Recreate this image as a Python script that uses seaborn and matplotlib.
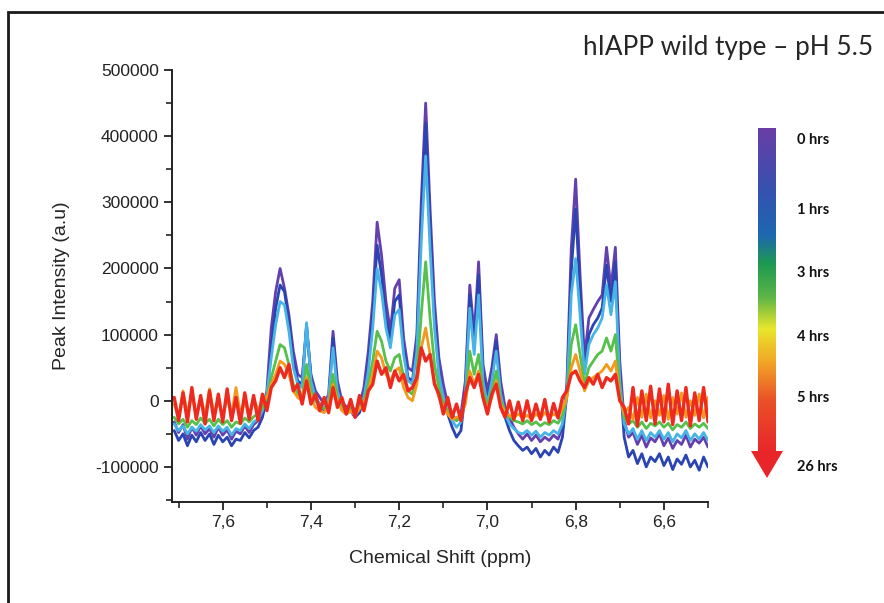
import matplotlib
matplotlib.use('Agg')
import matplotlib.pyplot as plt
import numpy as np
import pandas as pd
import seaborn as sns
from matplotlib import colors, patches
from matplotlib.ticker import MultipleLocator, FuncFormatter

# chemical shift grid, 7.71 -> 6.50 ppm in 0.01 steps
PPM = np.round(np.arange(771, 649, -1) / 100, 2)

# intensities, in thousands (a.u.)
purple_0h = [
    -32, -48, -36, -58, -40, -52, -38, -50, -42, -55,
    -40, -52, -44, -58, -46, -50, -38, -48, -36, -30,
    -15, 15, 110, 165, 200, 170, 130, 75, 40, 35,
    110, 40, 15, 5, -5, 10, 105, 30, 0, -10,
    -5, -15, -8, 20, 75, 150, 270, 220, 150, 105,
    170, 183, 95, 50, 45, 100, 300, 450, 290, 150,
    65, 25, -5, -20, -30, -20, 30, 175, 100, 210,
    55, 15, 50, 100, 30, -10, -25, -40, -50, -58,
    -50, -60, -52, -62, -55, -60, -52, -58, -40, 25,
    230, 335, 190, 65, 125, 138, 150, 160, 232, 170,
    232, 60, -30, -55, -48, -66, -52, -70, -56, -62,
    -50, -68, -56, -72, -60, -66, -52, -70, -58, -64,
    -55, -70]
blue_1h = [
    -45, -60, -50, -68, -52, -62, -48, -60, -50, -66,
    -52, -62, -55, -68, -58, -60, -48, -56, -45, -40,
    -25, 5, 80, 140, 175, 165, 120, 60, 30, 25,
    115, 35, 5, -5, -15, 0, 95, 20, -10, -20,
    -15, -25, -18, 5, 55, 130, 235, 190, 125, 90,
    150, 160, 80, 35, 30, 85, 270, 420, 260, 125,
    45, 5, -20, -40, -55, -45, 15, 160, 80, 190,
    40, 0, 35, 90, 15, -25, -45, -60, -68, -75,
    -70, -80, -72, -85, -75, -82, -70, -78, -55, 10,
    195, 290, 165, 45, 100, 115, 125, 140, 205, 150,
    210, 40, -55, -85, -75, -95, -80, -100, -85, -92,
    -80, -98, -85, -104, -88, -96, -82, -100, -90, -105,
    -85, -100]
sky_2h = [
    -35, -45, -38, -50, -40, -46, -36, -44, -38, -48,
    -38, -46, -40, -52, -42, -45, -35, -42, -32, -28,
    -15, 10, 65, 115, 150, 145, 105, 50, 25, 20,
    118, 30, 5, -5, -10, 5, 80, 15, -8, -15,
    -10, -18, -12, 5, 45, 110, 200, 165, 110, 80,
    130, 138, 70, 30, 25, 75, 240, 370, 230, 110,
    40, 5, -15, -30, -40, -32, 10, 140, 70, 160,
    30, -5, 30, 75, 10, -20, -35, -42, -48, -50,
    -45, -52, -46, -55, -48, -52, -45, -50, -35, 10,
    160, 215, 130, 40, 85, 100, 110, 125, 175, 130,
    180, 30, -35, -50, -42, -58, -45, -60, -48, -55,
    -45, -58, -48, -62, -50, -56, -45, -60, -50, -58,
    -48, -60]
green_3h = [
    -25, -35, -28, -40, -30, -36, -26, -34, -28, -38,
    -28, -36, -30, -40, -32, -35, -26, -32, -24, -20,
    -10, 5, 35, 60, 85, 80, 55, 25, 10, 5,
    55, 15, 0, -8, -12, -2, 40, 5, -10, -15,
    -10, -15, -10, 0, 25, 60, 105, 90, 60, 45,
    65, 70, 35, 15, 10, 40, 130, 210, 125, 55,
    20, -5, -15, -25, -30, -25, 0, 75, 40, 70,
    15, -8, 15, 45, 0, -15, -25, -30, -32, -35,
    -30, -36, -32, -38, -33, -36, -30, -34, -22, 5,
    85, 115, 70, 25, 50, 60, 70, 75, 95, 75,
    100, 15, -25, -35, -30, -40, -32, -42, -34, -38,
    -32, -40, -34, -44, -36, -40, -32, -42, -35, -40,
    -34, -42]
orange_4h = [
    -5, -25, 15, -20, 10, -25, 5, -22, 18, -20,
    0, -25, 5, -22, 20, -20, 0, -24, 5, -15,
    0, 5, 25, 40, 60, 55, 40, 15, 5, 0,
    35, 5, -10, -15, -18, -8, 25, 0, -15, -20,
    -15, -22, -12, -5, 15, 40, 75, 65, 40, 30,
    45, 50, 20, 5, 0, 25, 80, 110, 70, 30,
    5, -10, -20, -28, -25, -22, -5, 45, 25, 45,
    5, -12, 5, 30, -5, -18, -22, -25, -20, -26,
    -22, -28, -20, -26, -18, -25, -20, -24, -12, 5,
    50, 70, 45, 15, 30, 35, 40, 45, 55, 45,
    60, 5, -20, -10, -28, 5, -25, 10, -26, 0,
    -22, 8, -28, 5, -20, 12, -25, 0, -22, 10,
    -26, 5]
red_26h = [
    5, -30, 12, -32, 20, -28, 8, -35, 15, -30,
    10, -32, 18, -30, 5, -34, 12, -28, 8, -30,
    10, -15, 20, 30, 50, 35, 55, 15, 25, -5,
    30, -5, 10, -15, 5, -18, 20, -10, 5, -20,
    2, -25, 8, -15, 15, 25, 60, 40, 50, 20,
    45, 30, 40, 15, 20, 35, 80, 60, 70, 25,
    10, -20, 5, -25, -5, -30, 10, 35, 20, 40,
    5, -20, 10, 25, -10, -25, 0, -28, -2, -30,
    0, -30, -5, -28, 2, -32, -4, -26, 5, 15,
    40, 45, 30, 20, 35, 25, 40, 20, 35, 30,
    40, 0, -10, -35, 20, -38, 15, -30, 22, -35,
    18, -32, 25, -36, 15, -30, 20, -38, 12, -30,
    20, -32]

series = {
    '0 hrs': purple_0h,
    '1 hrs': blue_1h,
    '2 hrs': sky_2h,
    '3 hrs': green_3h,
    '4 hrs': orange_4h,
    '26 hrs': red_26h,
}
line_colors = ['#6440ae', '#2a44b2', '#48b4e6', '#55c04a', '#f39a1e', '#ee2a1e']

time_labels = ['0 hrs', '1 hrs', '3 hrs', '4 hrs', '5 hrs', '26 hrs']
label_y = [140, 210, 273, 337, 398, 467]

frames = []
for name, vals in series.items():
    frames.append(pd.DataFrame({'ppm': PPM, 'intensity': np.array(vals) * 1000, 'time': name}))
df = pd.concat(frames, ignore_index=True)

sns.set_style('ticks')
plt.rcParams['font.family'] = ['Liberation Sans', 'DejaVu Sans']

W, H = 884, 603
fig = plt.figure(figsize=(W / 100, H / 100), dpi=100)
ax = fig.add_axes([172 / W, 1 - 502 / H, (708 - 172) / W, (502 - 70) / H])

sns.lineplot(data=df, x='ppm', y='intensity', hue='time', hue_order=list(series.keys()),
             palette=line_colors, sort=False, estimator=None, legend=False,
             linewidth=2.0, ax=ax)
ax.lines[-1].set_linewidth(2.4)

ax.set_xlim(7.715, 6.5)
ax.set_ylim(-153000, 500000)
ax.xaxis.set_major_locator(MultipleLocator(0.2))
ax.xaxis.set_minor_locator(MultipleLocator(0.1))
ax.yaxis.set_major_locator(MultipleLocator(100000))
ax.yaxis.set_minor_locator(MultipleLocator(50000))
ax.xaxis.set_major_formatter(FuncFormatter(lambda v, p: f'{v:.1f}'.replace('.', ',')))
ax.yaxis.set_major_formatter(FuncFormatter(lambda v, p: f'{v:.0f}'))
ax.tick_params(axis='both', which='major', length=6, width=1.3, labelsize=12.5, colors='#222222')
ax.tick_params(axis='both', which='minor', length=4, width=1.2)
sns.despine(ax=ax)
for s in ['left', 'bottom']:
    ax.spines[s].set_linewidth(1.4)
    ax.spines[s].set_color('#222222')
ax.set_xlabel('Chemical Shift (ppm)', fontsize=14, labelpad=14)
ax.set_ylabel('Peak Intensity (a.u)', fontsize=14, labelpad=18)
ax.set_facecolor('none')

# title
fig.text(583 / W, 1 - 47 / H, 'hIAPP wild type \u2013 pH 5.5', fontsize=18.8,
         family=['Lato', 'DejaVu Sans'], va='center', ha='left')

# outer frame
fig.patches.append(patches.Rectangle((8 / W, -0.05), 1.2, 1 - 12 / H + 0.05,
                                     transform=fig.transFigure, fill=False,
                                     edgecolor='#1a1a1a', linewidth=2))

# time arrow
bar_top, bar_bot = 128, 452
cax = fig.add_axes([758 / W, 1 - bar_bot / H, 18 / W, (bar_bot - bar_top) / H])
grad = colors.LinearSegmentedColormap.from_list('time', [
    (0.0, '#6a3da6'), (0.2, '#3353b0'), (0.33, '#1d68b0'), (0.42, '#1e9a50'),
    (0.52, '#5ab548'), (0.62, '#e9e62c'), (0.72, '#f2a826'), (0.84, '#ea5228'),
    (1.0, '#e8262a')])
cax.imshow(np.linspace(0, 1, 256).reshape(-1, 1), aspect='auto', cmap=grad)
cax.set_axis_off()
fig.patches.append(patches.Polygon([(751 / W, 1 - 451 / H), (783 / W, 1 - 451 / H),
                                    (767 / W, 1 - 478 / H)], closed=True,
                                   transform=fig.transFigure, facecolor='#e8262a',
                                   edgecolor='none'))
for lab, y in zip(time_labels, label_y):
    fig.text(797 / W, 1 - y / H, lab, fontsize=10.5, fontweight='bold',
             family=['Lato', 'DejaVu Sans'], va='center', ha='left', color='#111111')

fig.savefig('out.png', dpi=100)
